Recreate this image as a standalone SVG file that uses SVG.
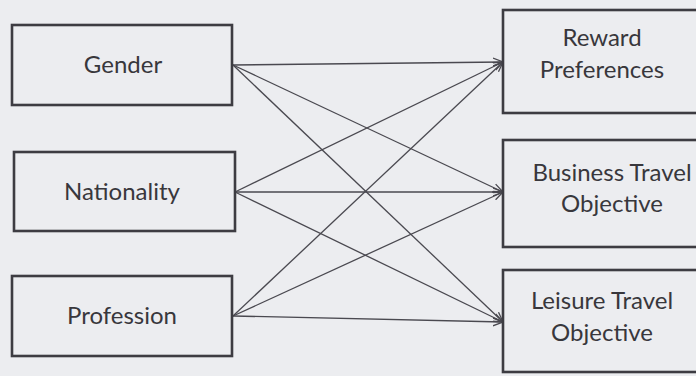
<svg xmlns="http://www.w3.org/2000/svg" width="696" height="376" viewBox="0 0 696 376">
<defs>
<style>
.box{fill:none;stroke:#3d3c42;stroke-width:2.6}
.lbl{font-family:Lato,"Open Sans",sans-serif;font-size:24px;fill:#38373c;text-anchor:middle}
.ln{stroke:#4a4950;stroke-width:1.3;fill:none}
</style>
<marker id="ah" viewBox="0 0 10 10" refX="10" refY="5" markerWidth="10" markerHeight="10" markerUnits="userSpaceOnUse" orient="auto">
<path d="M0,1 L10,5 L0,9" fill="none" stroke="#4a4950" stroke-width="1.3"/>
</marker>
</defs>
<rect width="696" height="376" fill="#ecedf0"/>
<g id="connectors">
<line class="ln" x1="233" y1="65" x2="503" y2="62" marker-end="url(#ah)"/>
<line class="ln" x1="233" y1="65" x2="503" y2="192" marker-end="url(#ah)"/>
<line class="ln" x1="233" y1="65" x2="503" y2="322" marker-end="url(#ah)"/>
<line class="ln" x1="235" y1="192" x2="503" y2="62" marker-end="url(#ah)"/>
<line class="ln" x1="235" y1="192" x2="503" y2="192" marker-end="url(#ah)"/>
<line class="ln" x1="235" y1="192" x2="503" y2="322" marker-end="url(#ah)"/>
<line class="ln" x1="233" y1="316" x2="503" y2="62" marker-end="url(#ah)"/>
<line class="ln" x1="233" y1="316" x2="503" y2="192" marker-end="url(#ah)"/>
<line class="ln" x1="233" y1="316" x2="503" y2="322" marker-end="url(#ah)"/>
</g>
<g id="gender"><rect class="box" x="12" y="25" width="220" height="80"/><text class="lbl" x="123" y="73">Gender</text></g>
<g id="nationality"><rect class="box" x="14" y="152" width="221" height="79"/><text class="lbl" x="122" y="200">Nationality</text></g>
<g id="profession"><rect class="box" x="12" y="276" width="220" height="80"/><text class="lbl" x="122" y="324">Profession</text></g>
<g id="reward"><rect class="box" x="503" y="10" width="200" height="103"/><text class="lbl" x="602" y="46">Reward</text><text class="lbl" x="602" y="78">Preferences</text></g>
<g id="business"><rect class="box" x="503" y="140" width="200" height="107"/><text class="lbl" x="612" y="181">Business Travel</text><text class="lbl" x="612" y="212">Objective</text></g>
<g id="leisure"><rect class="box" x="503" y="270" width="200" height="102"/><text class="lbl" x="602" y="309">Leisure Travel</text><text class="lbl" x="602" y="341">Objective</text></g>
</svg>
